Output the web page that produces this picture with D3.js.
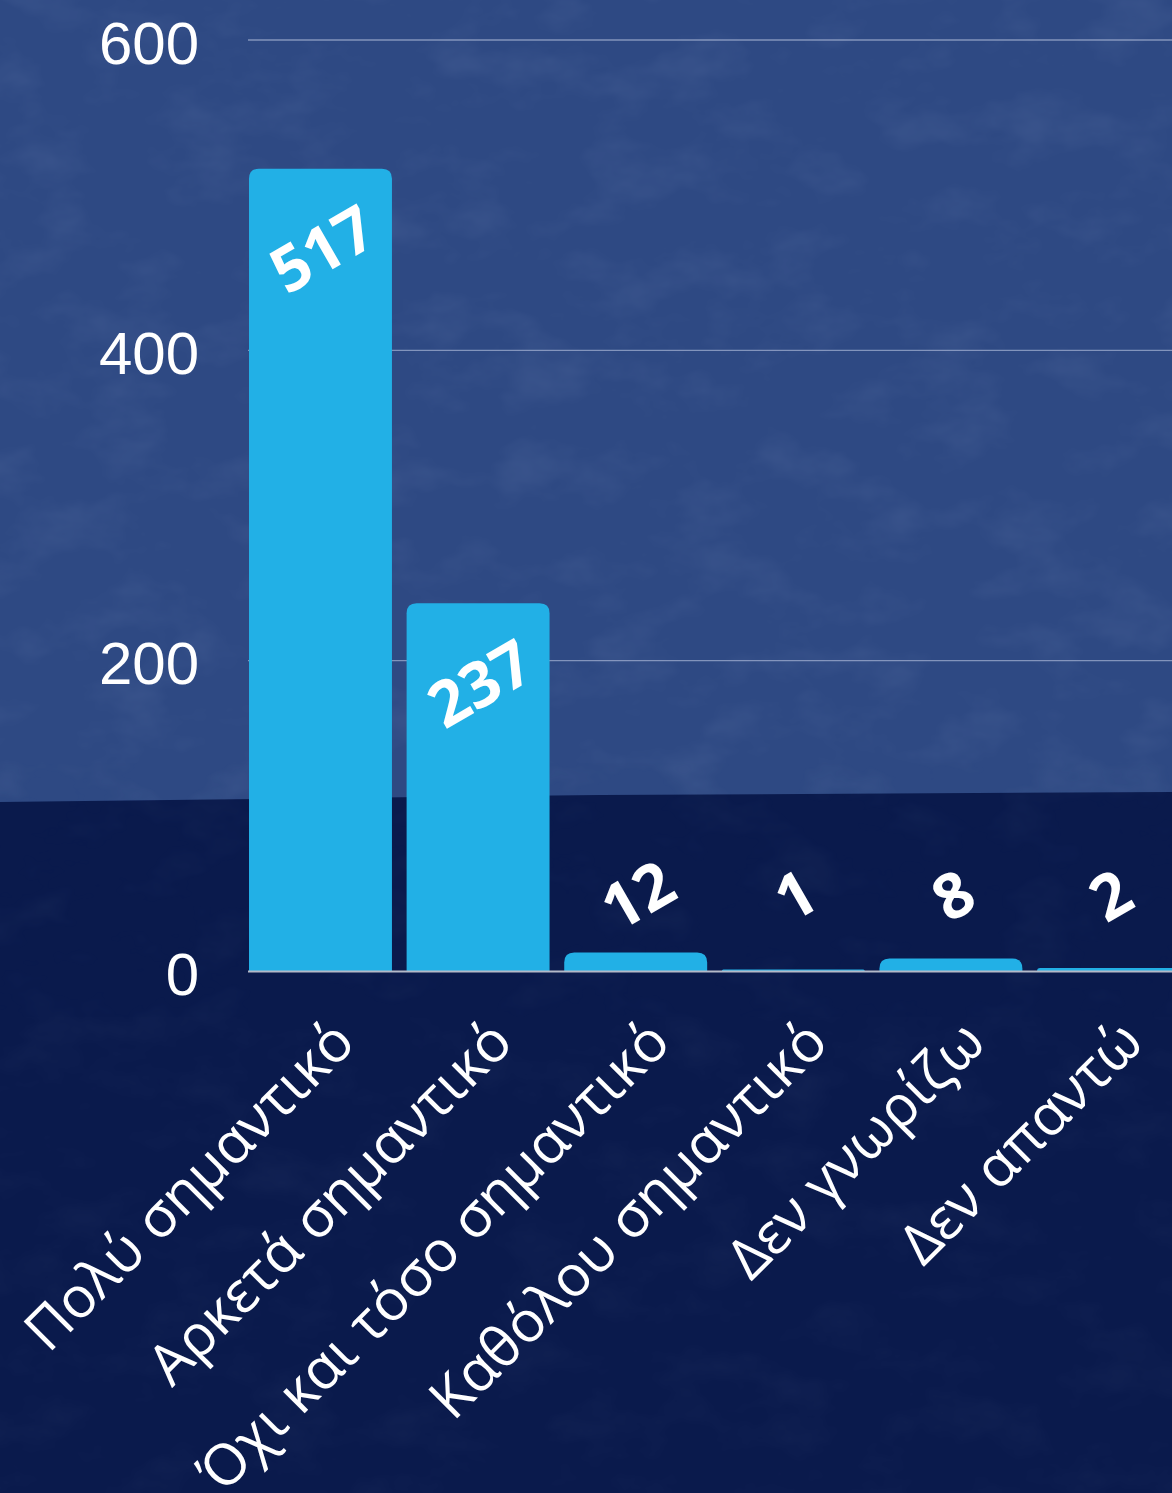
<!DOCTYPE html>
<html>
<head>
<meta charset="utf-8">
<script src="https://cdn.jsdelivr.net/npm/d3@7"></script>
<style>
  html, body { margin: 0; padding: 0; background: #0b1a4e; overflow: hidden; }
  svg { display: block; }
</style>
</head>
<body>
<svg id="chart" width="1172" height="1493"></svg>
<script>
// ---- data ----
const categories = ["Πολύ σημαντικό", "Αρκετά σημαντικό", "Όχι και τόσο σημαντικό", "Καθόλου σημαντικό", "Δεν γνωρίζω", "Δεν απαντώ"];
const values = [517, 237, 12, 1, 8, 2];
const yTicks = [0, 200, 400, 600];

const W = 1172, H = 1493;
const svg = d3.select("#chart");

// ---- background with texture ----
const defs = svg.append("defs");
const filt = defs.append("filter").attr("id", "grain").attr("x", 0).attr("y", 0).attr("width", "100%").attr("height", "100%");
filt.append("feTurbulence").attr("type", "fractalNoise").attr("baseFrequency", "0.012 0.02").attr("numOctaves", 4).attr("seed", 7).attr("result", "noise");
filt.append("feColorMatrix").attr("in", "noise").attr("type", "matrix")
  .attr("values", "0 0 0 0 0.55  0 0 0 0 0.65  0 0 0 0 0.9  0 0 0 1.6 -0.75");

defs.append("clipPath").attr("id", "topclip").append("path").attr("d", `M0,0 L${W},0 L${W},792 L600,795 L0,802 Z`);
defs.append("clipPath").attr("id", "botclip").append("path").attr("d", `M0,802 L600,795 L${W},792 L${W},${H} L0,${H} Z`);

svg.append("rect").attr("x", 0).attr("y", 0).attr("width", W).attr("height", H).attr("fill", "#0a1a4c");
svg.append("path").attr("d", `M0,0 L${W},0 L${W},792 L600,795 L0,802 Z`).attr("fill", "#2e4983");
svg.append("rect").attr("x", 0).attr("y", 0).attr("width", W).attr("height", 802)
  .attr("fill", "#ffffff").attr("filter", "url(#grain)").attr("opacity", 0.1)
  .attr("clip-path", "url(#topclip)");
svg.append("rect").attr("x", 0).attr("y", 790).attr("width", W).attr("height", H - 790)
  .attr("fill", "#ffffff").attr("filter", "url(#grain)").attr("opacity", 0.05)
  .attr("clip-path", "url(#botclip)");

// ---- scales ----
const y = d3.scaleLinear().domain([0, 600]).range([971, 40]);
const x = d3.scaleBand().domain(categories).range([249, 1180]).paddingInner(0.093).paddingOuter(0);

// gridlines
svg.append("g").selectAll("line").data(yTicks.filter(d => d > 0)).join("line")
  .attr("x1", 248).attr("x2", W)
  .attr("y1", d => y(d)).attr("y2", d => y(d))
  .attr("stroke", "rgba(200,210,235,0.55)").attr("stroke-width", 1.3);

// y axis labels
const yAxis = d3.axisLeft(y).tickValues(yTicks).tickSize(0).tickPadding(0);
const gy = svg.append("g").attr("transform", "translate(199,2)").call(yAxis);
gy.select(".domain").remove();
gy.selectAll("text").attr("fill", "#ffffff").attr("font-family", "'Liberation Sans', Arial, sans-serif")
  .attr("font-size", 60).attr("dy", "0.35em");

// bars with rounded top corners
function barPath(x0, w, yTop, yBase, r) {
  const h = yBase - yTop;
  const rr = Math.min(r, h, w / 2);
  return `M${x0},${yBase} L${x0},${yTop + rr} Q${x0},${yTop} ${x0 + rr},${yTop} L${x0 + w - rr},${yTop} Q${x0 + w},${yTop} ${x0 + w},${yTop + rr} L${x0 + w},${yBase} Z`;
}
svg.append("g").selectAll("path").data(values).join("path")
  .attr("d", (d, i) => barPath(x(categories[i]), x.bandwidth(), y(d), y(0), 10))
  .attr("fill", "#22b0e6");

// baseline
svg.append("line").attr("x1", 248).attr("x2", W).attr("y1", y(0) + 0.5).attr("y2", y(0) + 0.5)
  .attr("stroke", "#b4b9c8").attr("stroke-width", 2);

// value labels
svg.append("g").selectAll("text").data(values).join("text")
  .attr("transform", (d, i) => {
    const cx = x(categories[i]) + x.bandwidth() / 2 + 2;
    const cy = d > 100 ? y(d) + 80 : y(0) - 76;
    return `translate(${cx},${cy}) rotate(-30)`;
  })
  .attr("text-anchor", "middle").attr("dy", "0.36em")
  .attr("font-family", "'Open Sans', 'Noto Sans', sans-serif").attr("font-weight", 700)
  .attr("font-size", 63).attr("fill", "#ffffff")
  .text(d => d);

// category labels
svg.append("g").selectAll("text").data(categories).join("text")
  .attr("transform", d => `translate(${x(d) + x.bandwidth() / 2 + 23},${1031}) rotate(-45)`)
  .attr("text-anchor", "end").attr("dy", "0.35em")
  .attr("font-family", "'Open Sans', 'Noto Sans', sans-serif")
  .attr("font-size", 57).attr("fill", "#ffffff")
  .text(d => d);
</script>
</body>
</html>
